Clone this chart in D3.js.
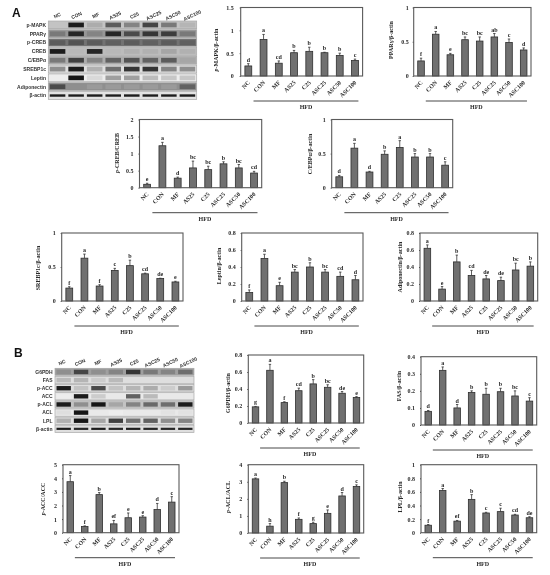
<!DOCTYPE html>
<html>

<head>
    <meta charset="utf-8">
    <style>
        body {
            margin: 0;
            background: white;
        }

        /* the figure is a soft scan, a slight blur keeps everything greyscale too */
        svg {
            display: block;
            filter: blur(0.3px);
        }

        .serif text,
        text.serif {
            font-family: "Liberation Serif", serif;
            font-weight: bold;
            font-size: 6px;
            fill: #2a2a2a;
        }

        .blot-text {
            font-family: "Liberation Sans", Arial, sans-serif;
            font-weight: bold;
            font-size: 5px;
            fill: #333;
        }

        .panel-letter {
            font-family: "Liberation Sans", Arial, sans-serif;
            font-weight: bold;
            font-size: 12px;
            fill: #111;
        }

        .bar {
            fill: #707070;
            stroke: #2e2e2e;
            stroke-width: 0.8;
        }

        .frame {
            fill: none;
            stroke: #5a5a5a;
            stroke-width: 1.1;
        }

        .err {
            stroke: #333;
            stroke-width: 0.8;
            fill: none;
        }

        .hfd-line {
            stroke: #333;
            stroke-width: 0.9;
        }
    </style>
</head>

<body>
    <svg width="550" height="575"></svg>

    <script src="https://d3js.org/d3.v7.min.js"></script>
    <script>
        // treatment groups, same order in every chart and blot
        let groups = ["NC", "CON", "MF", "AS25", "C25", "ASC25", "ASC50", "ASC100"]

        // panel A bars
        let pMapkValues = [0.22, 0.8, 0.28, 0.51, 0.54, 0.51, 0.45, 0.34]
        let pMapkErrors = [0.05, 0.11, 0.05, 0.05, 0.09, 0.01, 0.05, 0.03]
        let pMapkLetters = ["d", "a", "cd", "b", "b", "b", "b", "c"]
        let pMapkTicks = [0, 0.5, 1, 1.5]

        let pparValues = [0.22, 0.61, 0.31, 0.53, 0.51, 0.57, 0.49, 0.38]
        let pparErrors = [0.04, 0.04, 0.02, 0.04, 0.06, 0.05, 0.05, 0.03]
        let pparLetters = ["f", "a", "e", "bc", "bc", "ab", "c", "d"]
        let pparTicks = [0, 0.5, 1]

        let pCrebValues = [0.1, 1.23, 0.28, 0.58, 0.53, 0.7, 0.58, 0.43]
        let pCrebErrors = [0.03, 0.1, 0.03, 0.2, 0.1, 0.06, 0.1, 0.05]
        let pCrebLetters = ["e", "a", "d", "bc", "bc", "b", "bc", "cd"]
        let pCrebTicks = [0, 0.5, 1, 1.5, 2]

        let cebpValues = [0.16, 0.58, 0.23, 0.49, 0.59, 0.45, 0.45, 0.33]
        let cebpErrors = [0.02, 0.07, 0.01, 0.05, 0.1, 0.05, 0.05, 0.05]
        let cebpLetters = ["d", "a", "d", "b", "a", "b", "b", "c"]
        let cebpTicks = [0, 0.5, 1]

        let srebpValues = [0.19, 0.63, 0.22, 0.45, 0.52, 0.4, 0.33, 0.28]
        let srebpErrors = [0.02, 0.06, 0.02, 0.03, 0.08, 0.01, 0.005, 0.01]
        let srebpLetters = ["f", "a", "f", "c", "b", "cd", "de", "e"]
        let srebpTicks = [0, 0.5, 1]

        let leptinValues = [0.1, 0.5, 0.18, 0.34, 0.4, 0.34, 0.29, 0.25]
        let leptinErrors = [0.03, 0.05, 0.04, 0.03, 0.05, 0.03, 0.05, 0.05]
        let leptinLetters = ["f", "a", "e", "bc", "b", "bc", "cd", "d"]
        let leptinTicks = [0, 0.2, 0.4, 0.6, 0.8]

        let adipoValues = [0.62, 0.14, 0.46, 0.3, 0.26, 0.24, 0.365, 0.41]
        let adipoErrors = [0.04, 0.03, 0.08, 0.06, 0.04, 0.04, 0.08, 0.05]
        let adipoLetters = ["a", "e", "b", "cd", "de", "de", "bc", "b"]
        let adipoTicks = [0, 0.2, 0.4, 0.6, 0.8]

        // panel B bars
        let g6pdhValues = [0.19, 0.62, 0.24, 0.38, 0.46, 0.42, 0.35, 0.3]
        let g6pdhErrors = [0.005, 0.07, 0.01, 0.03, 0.05, 0.03, 0.02, 0.01]
        let g6pdhLetters = ["g", "a", "f", "cd", "b", "bc", "de", "e"]
        let g6pdhTicks = [0, 0.2, 0.4, 0.6, 0.8]

        let fasValues = [0.08, 0.32, 0.1, 0.19, 0.18, 0.195, 0.17, 0.14]
        let fasErrors = [0.005, 0.02, 0.02, 0.01, 0.035, 0.02, 0.03, 0.02]
        let fasLetters = ["d", "a", "d", "b", "b", "b", "bc", "c"]
        let fasTicks = [0, 0.1, 0.2, 0.3, 0.4]

        let pAccValues = [3.75, 0.45, 2.8, 0.65, 1.1, 1.15, 1.7, 2.25]
        let pAccErrors = [0.45, 0.05, 0.15, 0.25, 0.35, 0.1, 0.45, 0.4]
        let pAccLetters = ["a", "f", "b", "ef", "e", "e", "d", "c"]
        let pAccTicks = [0, 1, 2, 3, 4, 5]

        let pAclValues = [3.17, 0.4, 2.95, 0.8, 0.55, 1.15, 2.17, 2.72]
        let pAclErrors = [0.05, 0.15, 0.08, 0.08, 0.08, 0.2, 0.2, 0.1]
        let pAclLetters = ["a", "h", "b", "f", "g", "e", "d", "c"]
        let pAclTicks = [0, 1, 2, 3, 4]

        let lplValues = [0.11, 0.62, 0.17, 0.49, 0.29, 0.31, 0.26, 0.22]
        let lplErrors = [0.01, 0.03, 0.01, 0.07, 0.01, 0.05, 0.01, 0.015]
        let lplLetters = ["f", "a", "ef", "b", "c", "c", "cd", "de"]
        let lplTicks = [0, 0.2, 0.4, 0.6, 0.8, 1]

        // western blots: darkness 0-1, one row per protein
        let blotARows = ["p-MAPK", "PPARγ", "p-CREB", "CREB", "C/EBPα", "SREBP1c", "Leptin", "Adiponectin", "β-actin"]
        let blotABackground = [0.22, 0.42, 0.58, 0.25, 0.32, 0.1, 0.03, 0.45, 0.08]
        let blotABands = [
            [0.22, 0.95, 0.32, 0.68, 0.5, 0.78, 0.55, 0.28],
            [0.55, 0.92, 0.5, 0.92, 0.75, 0.85, 0.82, 0.55],
            [0.68, 0.72, 0.68, 0.66, 0.68, 0.66, 0.68, 0.66],
            [0.95, 0.27, 0.92, 0.27, 0.3, 0.3, 0.35, 0.3],
            [0.55, 0.8, 0.5, 0.65, 0.72, 0.65, 0.68, 0.35],
            [0.45, 0.97, 0.3, 0.6, 0.85, 0.85, 0.5, 0.45],
            [0.03, 1, 0.12, 0.38, 0.38, 0.25, 0.2, 0.2],
            [0.75, 0.45, 0.4, 0.4, 0.4, 0.4, 0.4, 0.65],
            [0.97, 0.95, 0.97, 0.95, 0.97, 0.95, 0.95, 0.97]
        ]

        let blotBRows = ["G6PDH", "FAS", "p-ACC", "ACC", "p-ACL", "ACL", "LPL", "β-actin"]
        let blotBBackground = [0.38, 0.1, 0.1, 0.05, 0.22, 0.05, 0.1, 0.1]
        let blotBBands = [
            [0.45, 0.78, 0.45, 0.5, 0.85, 0.55, 0.5, 0.6],
            [0.26, 0.28, 0.18, 0.26, 0.1, 0.1, 0.1, 0.1],
            [0.95, 0.22, 0.75, 0.22, 0.28, 0.32, 0.18, 0.4],
            [0.03, 0.97, 0.18, 0.05, 0.65, 0.26, 0.05, 0.05],
            [0.97, 0.45, 0.98, 0.35, 0.5, 0.62, 0.6, 0.97],
            [0.1, 1, 0.05, 0.03, 0.05, 0.05, 0.08, 0.08],
            [0.3, 1, 0.35, 0.8, 0.58, 0.65, 0.45, 0.5],
            [0.95, 0.92, 0.95, 0.92, 0.95, 0.92, 0.92, 0.92]
        ]

        let svg = d3.select("svg")

        svg.append("text").attr("class", "panel-letter").attr("x", 12).attr("y", 17).text("A")
        svg.append("text").attr("class", "panel-letter").attr("x", 14).attr("y", 357).text("B")

        // blur so the blots look like scanned film
        svg.append("defs").append("filter")
            .attr("id", "film")
            .append("feGaussianBlur")
            .attr("stdDeviation", 0.7)

        let greys = d3.scaleLinear().domain([0, 1]).range(["#f4f4f4", "#141414"])

        function drawBlot(opts) {
            let lanes = d3.scaleBand().domain(groups).range([opts.left, opts.right])
            let rows = d3.scaleBand().domain(opts.rows).range([opts.top, opts.bottom]).paddingInner(0.1)
            let heads = d3.scalePoint().domain(groups).range(opts.headRange)

            let g = svg.append("g")

            let clipId = "clip" + opts.top
            svg.select("defs").append("clipPath").attr("id", clipId)
                .selectAll("rect")
                .data(opts.rows)
                .join("rect")
                .attr("x", opts.left)
                .attr("y", d => rows(d))
                .attr("width", opts.right - opts.left)
                .attr("height", rows.bandwidth())

            let film = g.append("g").attr("clip-path", `url(#${clipId})`).append("g").attr("filter", "url(#film)")

            opts.rows.forEach(function (name, r) {
                film.append("rect")
                    .attr("x", opts.left - 3)
                    .attr("y", rows(name) - 1)
                    .attr("width", opts.right - opts.left + 6)
                    .attr("height", rows.bandwidth() + 2)
                    .style("fill", greys(opts.background[r]))

                // beta-actin bands run thin, the rest are fatter
                let share = name == "β-actin" ? 0.3 : 0.6

                film.selectAll(".band" + r)
                    .data(opts.bands[r])
                    .join("rect")
                    .attr("x", (d, i) => lanes(groups[i]) + 1.5)
                    .attr("y", rows(name) + rows.bandwidth() * (1 - share) / 2)
                    .attr("width", lanes.bandwidth() - 3)
                    .attr("height", rows.bandwidth() * share)
                    .style("fill", d => greys(d))
            })

            // thin grey outline round each strip
            g.selectAll(".strip")
                .data(opts.rows)
                .join("rect")
                .attr("x", opts.left)
                .attr("y", d => rows(d))
                .attr("width", opts.right - opts.left)
                .attr("height", rows.bandwidth())
                .style("fill", "none")
                .style("stroke", "#aaa")
                .style("stroke-width", 0.7)

            g.selectAll(".row-label")
                .data(opts.rows)
                .join("text")
                .attr("class", "blot-text")
                .attr("x", opts.labelX)
                .attr("y", d => rows(d) + rows.bandwidth() / 2 + 1.8)
                .attr("text-anchor", "end")
                .text(d => d)

            g.selectAll(".head-label")
                .data(groups)
                .join("text")
                .attr("class", "blot-text")
                .attr("text-anchor", "middle")
                .attr("transform", d => `translate(${heads(d)},${opts.headY}) rotate(-25)`)
                .text(d => d)
        }

        drawBlot({
            rows: blotARows, background: blotABackground, bands: blotABands,
            left: 48.3, right: 196.7, top: 21, bottom: 99.5, labelX: 46,
            headRange: [58, 193], headY: 17
        })

        drawBlot({
            rows: blotBRows, background: blotBBackground, bands: blotBBands,
            left: 55, right: 194, top: 368.3, bottom: 432.5, labelX: 52.5,
            headRange: [62.7, 189], headY: 364
        })

        function drawBars(opts) {
            let x = d3.scaleBand()
                .domain(groups)
                .range([opts.left, opts.right])
                .paddingInner(0.55)
                .paddingOuter(0.275)

            let y = d3.scaleLinear()
                .domain(d3.extent(opts.ticks))
                .range([opts.bottom, opts.top])

            let g = svg.append("g").attr("class", "serif")

            let yAxisSettings = d3.axisLeft(y)
                .tickValues(opts.ticks)
                .tickSize(1)
                .tickPadding(opts.tickGap)
                .tickFormat(d => String(d))

            g.append("g")
                .call(yAxisSettings)
                .attr("transform", `translate(${opts.left},0)`)
                .call(a => a.select(".domain").remove())
                .call(a => a.selectAll(".tick line").attr("stroke", "#444"))

            let xAxisSettings = d3.axisBottom(x).tickSize(0).tickPadding(0)

            g.append("g")
                .call(xAxisSettings)
                .attr("transform", `translate(0,${opts.bottom})`)
                .call(a => a.select(".domain").remove())
                .call(a => a.selectAll(".tick text")
                    .attr("text-anchor", "end")
                    .attr("dy", 0)
                    .attr("y", 0)
                    .attr("transform", "translate(2,7) rotate(-45)"))

            g.selectAll(".bar")
                .data(opts.values)
                .join("rect")
                .attr("class", "bar")
                .attr("x", (d, i) => x(groups[i]))
                .attr("y", d => y(d))
                .attr("width", x.bandwidth())
                .attr("height", d => opts.bottom - y(d))

            // upper error bars only
            g.selectAll(".err")
                .data(opts.errors)
                .join("path")
                .attr("class", "err")
                .attr("d", function (d, i) {
                    let cx = x(groups[i]) + x.bandwidth() / 2
                    let y0 = y(opts.values[i])
                    let y1 = y(opts.values[i] + d)
                    return `M${cx},${y0}V${y1}M${cx - 1.2},${y1}H${cx + 1.2}`
                })

            g.selectAll(".sig")
                .data(opts.letters)
                .join("text")
                .attr("x", (d, i) => x(groups[i]) + x.bandwidth() / 2)
                .attr("y", (d, i) => y(opts.values[i] + opts.errors[i]) - 2)
                .attr("text-anchor", "middle")
                .text(d => d)

            g.append("rect")
                .attr("class", "frame")
                .attr("x", opts.left)
                .attr("y", opts.top)
                .attr("width", opts.right - opts.left)
                .attr("height", opts.bottom - opts.top)

            let title = g.append("text")
                .attr("text-anchor", "middle")
                .attr("transform", `translate(${opts.titleX},${opts.titleY}) rotate(-90)`)

            // the leading p is set in italics on the phospho charts
            if (opts.title.startsWith("p-")) {
                title.append("tspan").style("font-style", "italic").text("p")
                title.append("tspan").text(opts.title.slice(1))
            } else {
                title.text(opts.title)
            }

            let lineLeft = x("CON") - 6.6
            let lineRight = x("ASC100") + x.bandwidth()

            g.append("line")
                .attr("class", "hfd-line")
                .attr("x1", lineLeft)
                .attr("x2", lineRight)
                .attr("y1", opts.bottom + 25)
                .attr("y2", opts.bottom + 25)

            g.append("text")
                .attr("x", (lineLeft + lineRight) / 2)
                .attr("y", opts.bottom + 33)
                .attr("text-anchor", "middle")
                .text("HFD")
        }

        drawBars({ values: pMapkValues, errors: pMapkErrors, letters: pMapkLetters, ticks: pMapkTicks, title: "p-MAPK/β-actin", left: 240.7, right: 362.6, top: 7.5, bottom: 76, titleX: 218, titleY: 50, tickGap: 6 })
        drawBars({ values: pparValues, errors: pparErrors, letters: pparLetters, ticks: pparTicks, title: "PPARγ/β-actin", left: 413.7, right: 531, top: 7.5, bottom: 76, titleX: 393, titleY: 40, tickGap: 4 })
        drawBars({ values: pCrebValues, errors: pCrebErrors, letters: pCrebLetters, ticks: pCrebTicks, title: "p-CREB/CREB", left: 139.5, right: 261.7, top: 119.5, bottom: 187.7, titleX: 119, titleY: 153, tickGap: 5 })
        drawBars({ values: cebpValues, errors: cebpErrors, letters: cebpLetters, ticks: cebpTicks, title: "C/EBPα/β-actin", left: 331.7, right: 452.7, top: 119.5, bottom: 187.7, titleX: 312, titleY: 154, tickGap: 5 })
        drawBars({ values: srebpValues, errors: srebpErrors, letters: srebpLetters, ticks: srebpTicks, title: "SREBP1c/β-actin", left: 61.7, right: 183, top: 233, bottom: 301, titleX: 40, titleY: 268, tickGap: 5 })
        drawBars({ values: leptinValues, errors: leptinErrors, letters: leptinLetters, ticks: leptinTicks, title: "Leptin/β-actin", left: 241.7, right: 363, top: 233, bottom: 301, titleX: 221, titleY: 266, tickGap: 5 })
        drawBars({ values: adipoValues, errors: adipoErrors, letters: adipoLetters, ticks: adipoTicks, title: "Adiponectin/β-actin", left: 420, right: 537.7, top: 233, bottom: 301, titleX: 402, titleY: 267, tickGap: 5 })

        drawBars({ values: g6pdhValues, errors: g6pdhErrors, letters: g6pdhLetters, ticks: g6pdhTicks, title: "G6PDH/β-actin", left: 248.3, right: 363.7, top: 355, bottom: 423, titleX: 229.5, titleY: 393, tickGap: 5 })
        drawBars({ values: fasValues, errors: fasErrors, letters: fasLetters, ticks: fasTicks, title: "FAS/β-actin", left: 421, right: 536.7, top: 356.7, bottom: 425, titleX: 401, titleY: 386, tickGap: 5 })
        drawBars({ values: pAccValues, errors: pAccErrors, letters: pAccLetters, ticks: pAccTicks, title: "p-ACC/ACC", left: 63, right: 179, top: 464.7, bottom: 532.7, titleX: 45, titleY: 499, tickGap: 5 })
        drawBars({ values: pAclValues, errors: pAclErrors, letters: pAclLetters, ticks: pAclTicks, title: "p-ACL/ACL", left: 248.3, right: 363.7, top: 464.7, bottom: 533, titleX: 230, titleY: 497, tickGap: 5 })
        drawBars({ values: lplValues, errors: lplErrors, letters: lplLetters, ticks: lplTicks, title: "LPL/β-actin", left: 421, right: 536.7, top: 464.7, bottom: 532.7, titleX: 402, titleY: 497, tickGap: 5 })
    </script>
</body>

</html>
